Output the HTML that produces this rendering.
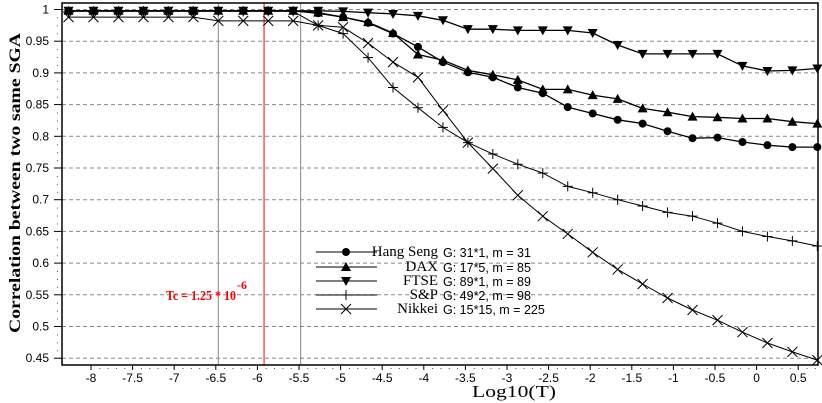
<!DOCTYPE html>
<html><head><meta charset="utf-8">
<style>
html,body{margin:0;padding:0;background:#fff;}
svg{display:block;}
text{font-family:"Liberation Sans",sans-serif;}
.serif{font-family:"Liberation Serif",serif;}
</style></head>
<body>
<svg id="chart" width="822" height="403" viewBox="0 0 822 403" xmlns="http://www.w3.org/2000/svg">
<g id="grid"></g>
<g id="axes"></g>
<g id="series"></g>
<g id="legend"></g>
</svg>
<script>
const xValues = [-8.27,-7.97,-7.67,-7.37,-7.07,-6.77,-6.47,-6.17,-5.87,-5.57,-5.27,-4.97,-4.67,-4.37,-4.07,-3.77,-3.47,-3.17,-2.87,-2.57,-2.27,-1.97,-1.67,-1.37,-1.07,-0.77,-0.47,-0.17,0.13,0.43,0.73];
const hangSeng = [0.998,0.998,0.998,0.998,0.998,0.998,0.998,0.998,0.998,0.998,0.994,0.988,0.979,0.962,0.941,0.917,0.901,0.893,0.877,0.868,0.846,0.836,0.826,0.82,0.808,0.797,0.798,0.791,0.786,0.783,0.783];
const dax = [0.998,0.998,0.998,0.998,0.998,0.998,0.998,0.998,0.998,0.998,0.995,0.988,0.98,0.963,0.929,0.92,0.904,0.897,0.889,0.874,0.874,0.865,0.859,0.844,0.838,0.831,0.83,0.828,0.828,0.823,0.82];
const ftse = [0.998,0.998,0.998,0.998,0.998,0.998,0.998,0.998,0.998,0.998,0.998,0.997,0.995,0.993,0.99,0.983,0.969,0.969,0.967,0.967,0.967,0.963,0.944,0.93,0.93,0.93,0.93,0.911,0.903,0.904,0.907];
const sp = [0.997,0.997,0.997,0.997,0.997,0.997,0.997,0.997,0.997,0.997,0.975,0.962,0.924,0.877,0.845,0.814,0.79,0.772,0.756,0.742,0.721,0.711,0.7,0.69,0.68,0.674,0.663,0.65,0.642,0.635,0.627];
const nikkei = [0.988,0.988,0.988,0.988,0.988,0.988,0.982,0.982,0.982,0.982,0.975,0.972,0.947,0.917,0.893,0.841,0.79,0.749,0.707,0.674,0.646,0.617,0.59,0.567,0.545,0.526,0.51,0.491,0.474,0.46,0.447];
const seriesNames = ["Hang Seng","DAX","FTSE","S&P","Nikkei"];
const seriesInfo = ["G: 31*1, m = 31","G: 17*5, m = 85","G: 89*1, m = 89","G: 49*2, m = 98","G: 15*15, m = 225"];
const yTicks = [1,0.95,0.9,0.85,0.8,0.75,0.7,0.65,0.6,0.55,0.5,0.45];
const yTickLabels = ["1","0.95","0.9","0.85","0.8","0.75","0.7","0.65","0.6","0.55","0.5","0.45"];
const xTicks = [-8,-7.5,-7,-6.5,-6,-5.5,-5,-4.5,-4,-3.5,-3,-2.5,-2,-1.5,-1,-0.5,0,0.5];
const xTickLabels = ["-8","-7.5","-7","-6.5","-6","-5.5","-5","-4.5","-4","-3.5","-3","-2.5","-2","-1.5","-1","-0.5","0","0.5"];
const grayLines = [-6.47,-5.48];
const tcLine = -5.92;

const L=62,R=818,T=3,B=365;
const xs=v=>91+83.2*(v+8);
const ys=v=>9.5+(1-v)/0.05*31.7;
const NS="http://www.w3.org/2000/svg";
function mk(tag,attrs,parent){const e=document.createElementNS(NS,tag);for(const k in attrs)e.setAttribute(k,attrs[k]);parent.appendChild(e);return e;}
const grid=document.getElementById('grid'),axes=document.getElementById('axes'),ser=document.getElementById('series'),leg=document.getElementById('legend');

yTicks.forEach((v,i)=>{
  const y=ys(v);
  const g=mk('line',{x1:L,x2:R,y1:y,y2:y,stroke:'#888','stroke-dasharray':'4,3','stroke-width':1},grid);
  
  
  const t=mk('line',{x1:54,x2:L,y1:y,y2:y,stroke:'#000'},axes);
  
  
  const lb=mk('text',{x:49,y:y+4,'text-anchor':'end','font-size':12},axes);
  lb.textContent=yTickLabels[i];
  
  
  if(i<yTicks.length-1){for(let k=1;k<4;k++){const yy=y+k*31.7/4;const d=mk('rect',{x:57,y:yy,width:1,height:1,fill:'#555'},axes);}}
});
xTicks.forEach((v,i)=>{
  const x=xs(v);
  const t=mk('line',{x1:x,x2:x,y1:B,y2:B+5,stroke:'#000'},axes);
  
  
  const lb=mk('text',{x:x,y:B+17,'text-anchor':'middle','font-size':12},axes);
  lb.textContent=xTickLabels[i];
  
  
  for(let k=1;k<5;k++){const xx=x+k*41.6/5;if(xx<R){const d=mk('rect',{x:xx,y:B+3,width:1,height:1,fill:'#555'},axes);}}
});
grayLines.forEach(v=>{
  const l=mk('line',{x1:xs(v),x2:xs(v),y1:T,y2:B,stroke:'#888','stroke-width':1},grid);
  
  
});
const red=mk('line',{x1:xs(tcLine),x2:xs(tcLine),y1:T,y2:B,stroke:'#f00','stroke-width':1},grid);


const tc=mk('text',{x:166,y:300,fill:'#f00','font-size':14,'font-weight':'bold',class:'serif',textLength:70,lengthAdjust:'spacingAndGlyphs'},axes);
tc.textContent='Tc = 1.25 * 10';


const tcs=mk('text',{x:237,y:289,fill:'#f00','font-size':12,'font-weight':'bold',class:'serif'},axes);
tcs.textContent='-6';



const frame=mk('rect',{x:L,y:T,width:R-L,height:B-T,fill:'none',stroke:'#000','stroke-width':1.5},axes);



function marker(type,x,y,parent){
  let e;
  if(type===0)e=mk('circle',{cx:x,cy:y,r:4,fill:'#000'},parent);
  else if(type===1)e=mk('polygon',{points:`${x},${y-5} ${x-5},${y+4} ${x+5},${y+4}`,fill:'#000'},parent);
  else if(type===2)e=mk('polygon',{points:`${x},${y+5} ${x-5},${y-4} ${x+5},${y-4}`,fill:'#000'},parent);
  else if(type===3)e=mk('path',{d:`M${x-5},${y}H${x+5}M${x},${y-5}V${y+5}`,stroke:'#000','stroke-width':1},parent);
  else e=mk('path',{d:`M${x-5},${y-5}L${x+5},${y+5}M${x-5},${y+5}L${x+5},${y-5}`,stroke:'#000','stroke-width':1},parent);
  return e;
}
const allSeries=[hangSeng,dax,ftse,sp,nikkei];
allSeries.forEach((vals,si)=>{
  const g=mk('g',{},ser);
  
  
  const pts=vals.map((v,i)=>xs(xValues[i]).toFixed(1)+','+ys(v).toFixed(1)).join(' ');
  const pl=mk('polyline',{points:pts,fill:'none',stroke:'#000','stroke-width':si<3?1.3:1},g);
  
  
  vals.forEach((v,i)=>{
    const m=marker(si,xs(xValues[i]),ys(v),g);
    
    
  });
});

const legY=[252,267,281,295,309];
seriesNames.forEach((n,i)=>{
  const y=legY[i];
  const g=mk('g',{},leg);
  
  
  mk('line',{x1:316,x2:377,y1:y,y2:y,stroke:'#000','stroke-width':1},g);
  marker(i,346,y,g);
  const t=mk('text',{x:438,y:y+4,'text-anchor':'end','font-size':15,class:'serif'},g);
  t.textContent=n;
  const t2=mk('text',{x:443,y:y+5,'font-size':12.5},g);
  t2.textContent=seriesInfo[i];
});

const xt=mk('text',{x:514,y:397,'text-anchor':'middle','font-size':17,class:'serif',textLength:84,lengthAdjust:'spacingAndGlyphs'},axes);
xt.textContent='Log10(T)';


const yt=mk('text',{x:0,y:0,'text-anchor':'middle','font-size':16,'font-weight':'bold',class:'serif',textLength:300,lengthAdjust:'spacingAndGlyphs',transform:'translate(20,183) rotate(-90)'},axes);
yt.textContent='Correlation between two same SGA';


</script>
</body></html>
